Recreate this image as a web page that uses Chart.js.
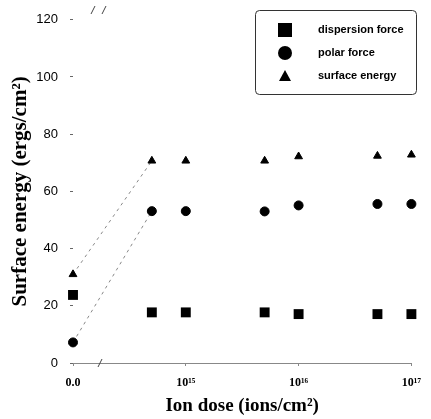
<!DOCTYPE html>
<html>
<head>
<meta charset="utf-8">
<script src="https://cdn.jsdelivr.net/npm/chart.js@4.4.1/dist/chart.umd.min.js"></script>
<style>
  body { margin: 0; background: #fff; }
  canvas { display: block; }
</style>
</head>
<body>
<canvas id="energyChart" width="431" height="419"></canvas>
<script>
// data (dose in ions/cm2, 0 = untreated)
const doses = [0, 5e14, 1e15, 5e15, 1e16, 5e16, 1e17];
const dispersionForce = [23.8, 17.7, 17.7, 17.7, 17.1, 17.1, 17.1];
const polarForce = [7.2, 53.1, 53.1, 53.0, 55.1, 55.6, 55.6];
const surfaceEnergy = [31.0, 70.7, 70.7, 70.7, 72.2, 72.4, 72.8];
const xTickValues = [14, 15, 16, 17];
const xTickLabels = ['0.0', '10¹⁵', '10¹⁶', '10¹⁷'];
const seriesNames = ['dispersion force', 'polar force', 'surface energy'];

// untreated sample sits at the 10^14 position (axis break)
function xPos(dose) {
    return dose === 0 ? 14 : Math.log10(dose);
}
function toPoints(values) {
    return values.map((v, i) => ({ x: xPos(doses[i]), y: v }));
}

// only first segment (0 -> 5e14) is drawn, as a dashed line
const firstSegment = {
    borderColor: ctx => ctx.p0DataIndex === 0 ? '#888' : 'rgba(0,0,0,0)',
    borderDash: [3, 4]
};

const legendBox = {
    id: 'legendBox',
    afterDraw(chart) {
        const c = chart.ctx;
        c.save();
        c.strokeStyle = '#333';
        c.lineWidth = 1;
        c.beginPath();
        c.roundRect(255.5, 10.5, 161, 84, 4);
        c.stroke();

        c.fillStyle = '#000';
        c.font = 'bold 11px "Liberation Sans", Arial, sans-serif';
        c.textBaseline = 'middle';
        seriesNames.forEach((name, i) => {
            const y = 30 + i * 23;
            const x = 285;
            c.beginPath();
            if (i === 0) {
                c.rect(x - 7, y - 7, 14, 14);
            } else if (i === 1) {
                c.arc(x, y, 7, 0, Math.PI * 2);
            } else {
                c.moveTo(x, y - 6);
                c.lineTo(x + 6, y + 5);
                c.lineTo(x - 6, y + 5);
                c.closePath();
            }
            c.fill();
            c.fillText(name, 318, y);
        });

        // axis break marks
        c.strokeStyle = '#444';
        [[93, 10], [104, 10], [100, 363]].forEach(([x, y]) => {
            c.beginPath();
            c.moveTo(x - 2, y + 4);
            c.lineTo(x + 2, y - 4);
            c.stroke();
        });
        c.restore();
    }
};

const ctx = document.getElementById('energyChart').getContext('2d');
new Chart(ctx, {
    type: 'scatter',
    data: {
        datasets: [
            {
                label: seriesNames[0],
                data: toPoints(dispersionForce),
                pointStyle: 'rect',
                pointRadius: 7,
                backgroundColor: '#000',
                borderColor: '#000',
                borderWidth: 0
            },
            {
                label: seriesNames[1],
                data: toPoints(polarForce),
                pointStyle: 'circle',
                pointRadius: 4.5,
                backgroundColor: '#000',
                borderColor: '#000',
                showLine: true,
                borderWidth: 1,
                segment: firstSegment
            },
            {
                label: seriesNames[2],
                data: toPoints(surfaceEnergy),
                pointStyle: 'triangle',
                pointRadius: 4.5,
                backgroundColor: '#000',
                borderColor: '#000',
                showLine: true,
                borderWidth: 1,
                segment: firstSegment
            }
        ]
    },
    options: {
        responsive: false,
        animation: false,
        clip: false,
        layout: { padding: { left: 0, right: 14, top: 10, bottom: 0 } },
        plugins: {
            legend: { display: false },
            tooltip: { enabled: false }
        },
        scales: {
            x: {
                type: 'linear',
                min: 14,
                max: 17,
                afterBuildTicks: scale => {
                    scale.ticks = xTickValues.map(v => ({ value: v }));
                },
                afterFit: scale => { scale.height = 56; },
                ticks: {
                    color: '#000',
                    padding: 10,
                    font: { family: '"Liberation Serif", "Times New Roman", serif', size: 12, weight: 'bold' },
                    callback: (v, i) => xTickLabels[i]
                },
                grid: { drawOnChartArea: false, tickLength: 3, color: '#888' },
                border: { display: true, color: '#888', dash: [1, 5] },
                title: {
                    display: true,
                    text: 'Ion dose (ions/cm²)',
                    color: '#000',
                    padding: { top: 0, bottom: 2 },
                    font: { family: '"Liberation Serif", "Times New Roman", serif', size: 19, weight: 'bold' }
                }
            },
            y: {
                min: 0,
                max: 120,
                afterFit: scale => { scale.width = 73; },
                ticks: {
                    stepSize: 20,
                    color: '#000',
                    padding: 12,
                    font: { family: '"Liberation Sans", Arial, sans-serif', size: 13 }
                },
                grid: { drawOnChartArea: false, tickLength: 3, color: '#666' },
                border: { display: false },
                title: {
                    display: true,
                    text: 'Surface energy (ergs/cm²)',
                    color: '#000',
                    padding: { top: 8, bottom: 0 },
                    font: { family: '"Liberation Serif", "Times New Roman", serif', size: 21, weight: 'bold' }
                }
            }
        }
    },
    plugins: [legendBox]
});
</script>
</body>
</html>
